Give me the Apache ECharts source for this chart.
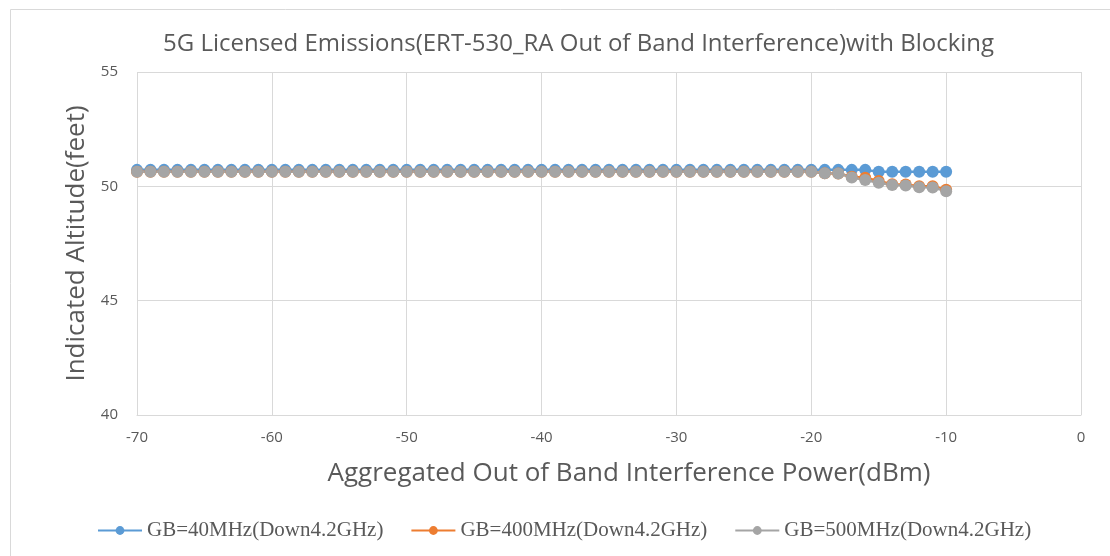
<!DOCTYPE html>
<html>
<head>
<meta charset="utf-8">
<script src="https://cdn.jsdelivr.net/npm/echarts@6/dist/echarts.min.js"></script>
<style>html,body{margin:0;padding:0;background:#fff}#c{width:1110px;height:556px}</style>
</head>
<body>
<div id="c"></div>
<script>
var xValues = [-70,-69,-68,-67,-66,-65,-64,-63,-62,-61,-60,-59,-58,-57,-56,-55,-54,-53,-52,-51,-50,-49,-48,-47,-46,-45,-44,-43,-42,-41,-40,-39,-38,-37,-36,-35,-34,-33,-32,-31,-30,-29,-28,-27,-26,-25,-24,-23,-22,-21,-20,-19,-18,-17,-16,-15,-14,-13,-12,-11,-10];
var gb40 = [50.72,50.72,50.72,50.72,50.72,50.72,50.72,50.72,50.72,50.72,50.72,50.72,50.72,50.72,50.72,50.72,50.72,50.72,50.72,50.72,50.72,50.72,50.72,50.72,50.72,50.72,50.72,50.72,50.72,50.72,50.72,50.72,50.72,50.72,50.72,50.72,50.72,50.72,50.72,50.72,50.72,50.72,50.72,50.72,50.72,50.72,50.72,50.72,50.72,50.72,50.72,50.72,50.72,50.72,50.72,50.64,50.64,50.64,50.64,50.64,50.64];
var gb400 = [50.64,50.64,50.64,50.64,50.64,50.64,50.64,50.64,50.64,50.64,50.64,50.64,50.64,50.64,50.64,50.64,50.64,50.64,50.64,50.64,50.64,50.64,50.64,50.64,50.64,50.64,50.64,50.64,50.64,50.64,50.64,50.64,50.64,50.64,50.64,50.64,50.64,50.64,50.64,50.64,50.64,50.64,50.64,50.64,50.64,50.64,50.64,50.64,50.64,50.64,50.64,50.57,50.56,50.42,50.38,50.23,50.09,50.08,50.0,50.0,49.85];
var gb500 = [50.64,50.64,50.64,50.64,50.64,50.64,50.64,50.64,50.64,50.64,50.64,50.64,50.64,50.64,50.64,50.64,50.64,50.64,50.64,50.64,50.64,50.64,50.64,50.64,50.64,50.64,50.64,50.64,50.64,50.64,50.64,50.64,50.64,50.64,50.64,50.64,50.64,50.64,50.64,50.64,50.64,50.64,50.64,50.64,50.64,50.64,50.64,50.64,50.64,50.64,50.64,50.57,50.56,50.39,50.28,50.16,50.06,50.04,49.96,49.95,49.79];
var seriesNames = ['GB=40MHz(Down4.2GHz)','GB=400MHz(Down4.2GHz)','GB=500MHz(Down4.2GHz)'];
var colors = ['#5B9BD5','#ED7D31','#A5A5A5'];

function pairs(ys){ return xValues.map(function(x,i){ return [x, ys[i]]; }); }

var chart = echarts.init(document.getElementById('c'), null, {renderer:'canvas'});
var sansFont = '"Open Sans", "Noto Sans", sans-serif';
var series = [gb40, gb400, gb500].map(function(d, i){
  return {
    name: seriesNames[i],
    type: 'line',
    data: pairs(d),
    symbol: 'circle',
    symbolSize: 12,
    showAllSymbol: true,
    itemStyle: {color: colors[i]},
    lineStyle: {color: colors[i], width: 2.5},
    animation: false
  };
});
chart.setOption({
  animation: false,
  color: colors,
  title: {
    text: '5G Licensed Emissions(ERT-530_RA Out of Band Interference)with Blocking',
    left: 158, top: 27,
    textStyle: {fontFamily: sansFont, fontSize: 24, fontWeight: 'normal', color: '#595959'}
  },
  graphic: [{
    type: 'rect', left: 8, top: 7, z: -1,
    shape: {width: 1110, height: 560},
    style: {fill: 'none', stroke: '#D9D9D9', lineWidth: 1}
  }],
  grid: {left: 137, right: 29, top: 72, bottom: 141},
  legend: {
    top: 515, left: 92,
    itemWidth: 44, itemHeight: 11, itemGap: 27,
    textStyle: {fontFamily: '"Liberation Serif", serif', fontSize: 21, color: '#595959'},
    data: seriesNames
  },
  xAxis: {
    type: 'value', min: -70, max: 0, interval: 10,
    name: 'Aggregated Out of Band Interference Power(dBm)',
    nameLocation: 'middle', nameGap: 46,
    nameTextStyle: {fontFamily: sansFont, fontSize: 26, color: '#595959', padding: [0, 0, 0, 40]},
    axisLine: {show: true, lineStyle: {color: '#D9D9D9'}},
    axisTick: {show: false},
    axisLabel: {fontFamily: sansFont, fontSize: 15, color: '#595959', margin: 15},
    splitLine: {show: true, lineStyle: {color: '#D9D9D9'}}
  },
  yAxis: {
    type: 'value', min: 40, max: 55, interval: 5,
    name: 'Indicated Altitude(feet)',
    nameLocation: 'middle', nameGap: 46,
    nameTextStyle: {fontFamily: sansFont, fontSize: 26, color: '#595959'},
    axisLine: {show: false},
    axisTick: {show: false},
    axisLabel: {fontFamily: sansFont, fontSize: 15, color: '#595959', margin: 19},
    splitLine: {show: true, lineStyle: {color: '#D9D9D9'}}
  },
  series: series
});
</script>
</body>
</html>
